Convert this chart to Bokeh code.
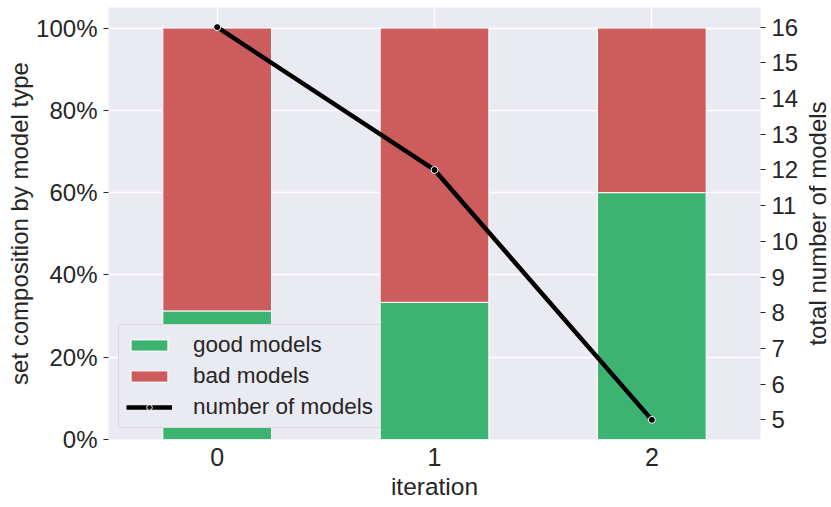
import math
from bokeh.plotting import figure
from bokeh.layouts import row
from bokeh.models import (Range1d, LinearAxis, FixedTicker, NumeralTickFormatter,
                          Legend, LegendItem, ColumnDataSource, Label)
from bokeh.embed import file_html
from bokeh.resources import INLINE

# ---- data ----
iterations = [0, 1, 2]
good_share = [0.3125, 0.3333, 0.60]
bad_share = [0.6875, 0.6667, 0.40]
n_models = [16, 12, 5]
x_tick_labels = ["0", "1", "2"]

GREEN = "#3cb371"
RED = "#cd5c5c"
BG = "#eaeaf2"
TXT = "#262626"
FONT = "Liberation Sans"

src = ColumnDataSource(dict(
    x=iterations,
    good=good_share,
    bad_top=[g + b for g, b in zip(good_share, bad_share)],
    n=n_models,
))

p = figure(frame_width=652, frame_height=432,
           x_range=Range1d(-0.5, 2.5), y_range=Range1d(0, 1.05),
           output_backend="svg", toolbar_location=None,
           min_border_left=108, min_border_right=36,
           min_border_top=7, min_border_bottom=64)
p.extra_y_ranges = {"n": Range1d(4.45, 16.55)}

p.background_fill_color = BG
p.border_fill_color = "white"
p.outline_line_color = None

# grid
p.xgrid.grid_line_color = "white"
p.ygrid.grid_line_color = "white"
p.xgrid.grid_line_width = 1.3
p.ygrid.grid_line_width = 1.3

# bars
r_good = p.vbar(x="x", bottom=0, top="good", width=0.5, source=src,
                fill_color=GREEN, line_color="white", line_width=1)
r_bad = p.vbar(x="x", bottom="good", top="bad_top", width=0.5, source=src,
               fill_color=RED, line_color="white", line_width=1)

# line on right axis
r_line = p.line(x="x", y="n", source=src, y_range_name="n",
                line_color="black", line_width=4.5)
r_pts = p.scatter(x="x", y="n", source=src, y_range_name="n", size=7,
                  fill_color="black", line_color="white", line_width=1)

# axes styling
def style_axis(ax, tick_size):
    ax.axis_line_color = None
    ax.minor_tick_line_color = None
    ax.major_tick_in = 0
    ax.major_tick_out = 5
    ax.major_tick_line_color = TXT
    ax.major_label_text_font = FONT
    ax.major_label_text_font_size = tick_size
    ax.major_label_text_color = TXT
    ax.axis_label_text_font = FONT
    ax.axis_label_text_font_size = "24px"
    ax.axis_label_text_font_style = "normal"
    ax.axis_label_text_color = TXT

xa = p.xaxis[0]
style_axis(xa, "25px")
xa.ticker = FixedTicker(ticks=iterations)
xa.major_label_overrides = {i: s for i, s in zip(iterations, x_tick_labels)}
xa.major_tick_out = 0
xa.major_label_standoff = 8
xa.axis_label = "iteration"
xa.axis_label_text_font_size = "24.5px"
xa.axis_label_standoff = 4

ya = p.yaxis[0]
style_axis(ya, "24px")
ya.ticker = FixedTicker(ticks=[0, 0.2, 0.4, 0.6, 0.8, 1.0])
ya.formatter = NumeralTickFormatter(format="0%")
ya.major_label_standoff = 6
ya.axis_label = "set composition by model type"
ya.axis_label_standoff = 0

ra = LinearAxis(y_range_name="n", ticker=FixedTicker(ticks=list(range(5, 17))))
style_axis(ra, "24px")
ra.major_label_standoff = 6
p.add_layout(ra, "right")

legend = Legend(items=[
    LegendItem(label="good models", renderers=[r_good]),
    LegendItem(label="bad models", renderers=[r_bad]),
    LegendItem(label="number of models", renderers=[r_line, r_pts]),
], location=(10, 11))
legend.background_fill_color = BG
legend.background_fill_alpha = 1.0
legend.border_line_color = "#cccccc"
legend.border_line_width = 1
legend.label_text_font = FONT
legend.label_text_font_size = "22.5px"
legend.label_text_color = TXT
legend.glyph_width = 46
legend.glyph_height = 14
legend.label_height = 25
legend.label_standoff = 21
legend.spacing = 5
legend.padding = 7
legend.margin = 0
p.add_layout(legend, "center")

# narrow strip holding the right-hand axis title (reads bottom-to-top)
side = figure(frame_width=31, frame_height=432,
              x_range=Range1d(0, 1), y_range=p.y_range,
              output_backend="svg", toolbar_location=None,
              min_border_left=0, min_border_right=0,
              min_border_top=7, min_border_bottom=64)
side.axis.visible = False
side.grid.visible = False
side.outline_line_color = None
side.background_fill_color = "white"
side.border_fill_color = "white"
side.add_layout(Label(x=0.5, y=0.525, text="total number of models",
                      angle=math.pi / 2, text_align="center",
                      text_baseline="middle", text_font=FONT,
                      text_font_size="24px", text_color=TXT))

layout = row(p, side, spacing=0)
open("out.html", "w").write(file_html(layout, INLINE))
